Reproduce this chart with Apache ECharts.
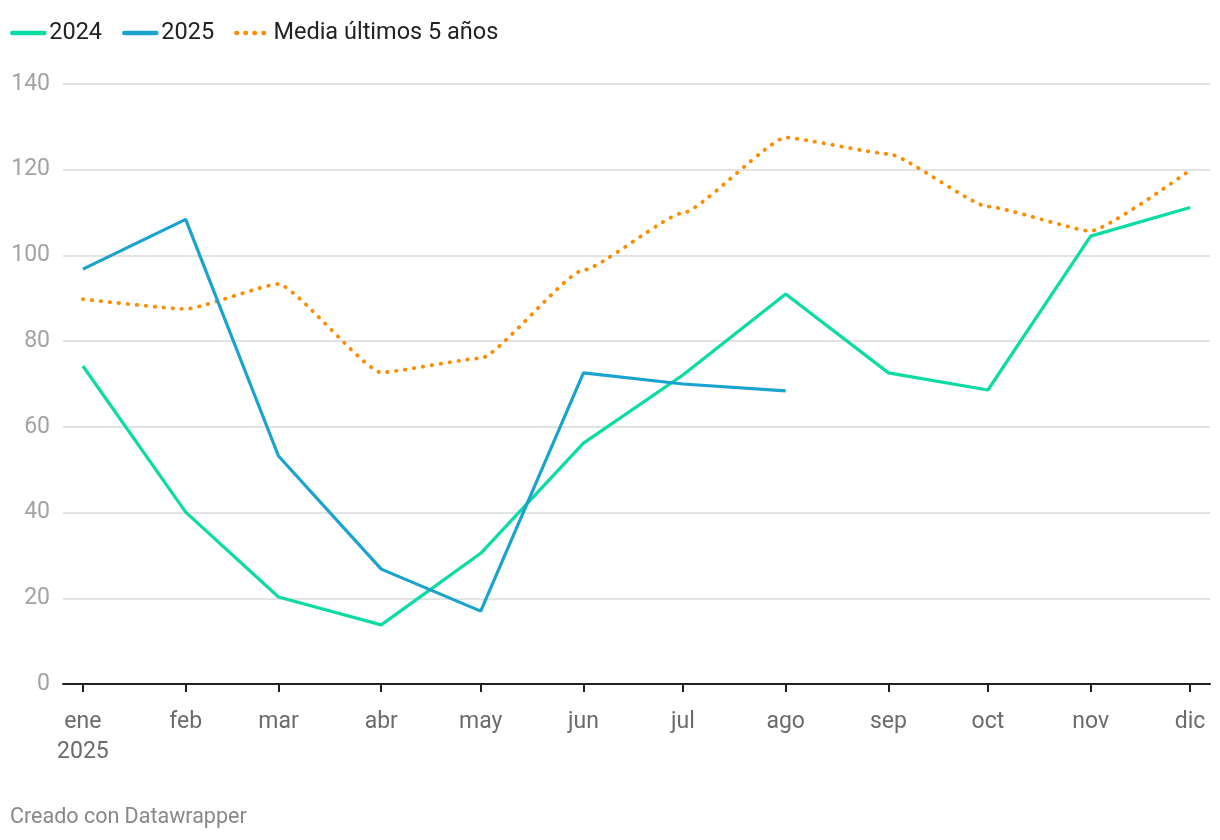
<!DOCTYPE html>
<html>
<head>
<meta charset="utf-8">
<script src="https://cdn.jsdelivr.net/npm/echarts@6/dist/echarts.min.js"></script>
<style>
html,body{margin:0;padding:0;background:#fff;}
#chart{width:1220px;height:840px;}
</style>
</head>
<body>
<div id="chart"></div>
<script>
var months = ['ene','feb','mar','abr','may','jun','jul','ago','sep','oct','nov','dic'];
var monthDates = ['2025-01-01','2025-02-01','2025-03-01','2025-04-01','2025-05-01','2025-06-01','2025-07-01','2025-08-01','2025-09-01','2025-10-01','2025-11-01','2025-12-01'];
var s2024 = [74.2, 40.1, 20.3, 13.8, 30.5, 56.2, 72.1, 91.0, 72.6, 68.6, 104.5, 111.2];
var s2025 = [96.8, 108.4, 53.2, 26.8, 17.0, 72.6, 70.0, 68.4];
var sMedia = [89.8, 87.5, 93.3, 72.7, 76.0, 96.6, 109.9, 127.5, 123.7, 111.4, 105.7, 119.9];

function ts(s){ var p = s.split('-'); return Date.UTC(+p[0], +p[1]-1, +p[2]); }
var monthTs = monthDates.map(ts);
function pairs(vals){ return vals.map(function(v,i){ return [monthTs[i], v]; }); }

var chart = echarts.init(document.getElementById('chart'));
var font = 'Roboto';
chart.setOption({
  animation: false,
  textStyle: {fontFamily: font},
  legend: {
    left: 5, top: 16,
    itemWidth: 32, itemHeight: 14, itemGap: 20,
    itemStyle: {opacity: 0},
    lineStyle: {width: 4.5, cap: 'round'},
    textStyle: {fontSize: 23.5, color: '#222', fontFamily: font},
    data: ['2024','2025','Media últimos 5 años']
  },
  graphic: [{
    type: 'text', left: 10, top: 807,
    style: {text: 'Creado con Datawrapper', fill: '#888', fontSize: 21.5, fontFamily: font}
  }],
  grid: {left: 63, right: 10, top: 84, bottom: 156, containLabel: false},
  xAxis: {
    type: 'value',
    min: ts('2024-12-26'),
    max: ts('2025-12-07'),
    axisLine: {lineStyle: {color: '#222', width: 2}},
    axisTick: {show: true, customValues: monthTs, length: 8, lineStyle: {color: '#222', width: 2}},
    axisLabel: {
      customValues: monthTs,
      fontSize: 23, color: '#6b6b6b', fontFamily: font, margin: 23, lineHeight: 30,
      formatter: function(v){
        var d = new Date(v);
        var lbl = months[d.getUTCMonth()];
        return d.getUTCMonth() === 0 ? lbl + '\n' + d.getUTCFullYear() : lbl;
      }
    },
    splitLine: {show: false}
  },
  yAxis: {
    type: 'value', min: 0, max: 140, interval: 20,
    axisLine: {show: false}, axisTick: {show: false},
    axisLabel: {fontSize: 23, color: '#a3a3a3', fontFamily: font, margin: 13},
    splitLine: {lineStyle: {color: '#e3e3e3', width: 2}}
  },
  series: [
    {name: '2024', type: 'line', data: pairs(s2024), symbol: 'none', showSymbol: false,
     lineStyle: {color: '#0bdca3', width: 3.2}, itemStyle: {color: '#0bdca3'}, z: 3},
    {name: '2025', type: 'line', data: pairs(s2025), symbol: 'none', showSymbol: false,
     lineStyle: {color: '#1aa3cf', width: 3.2}, itemStyle: {color: '#1aa3cf'}, z: 4},
    {name: 'Media últimos 5 años', type: 'line', data: pairs(sMedia), symbol: 'none', showSymbol: false,
     smooth: 0.15, smoothMonotone: 'x',
     lineStyle: {color: '#ff8c00', width: 3.8, type: [0.5, 8.5], cap: 'round'}, itemStyle: {color: '#ff8c00'}, z: 2}
  ]
});
</script>
</body>
</html>
